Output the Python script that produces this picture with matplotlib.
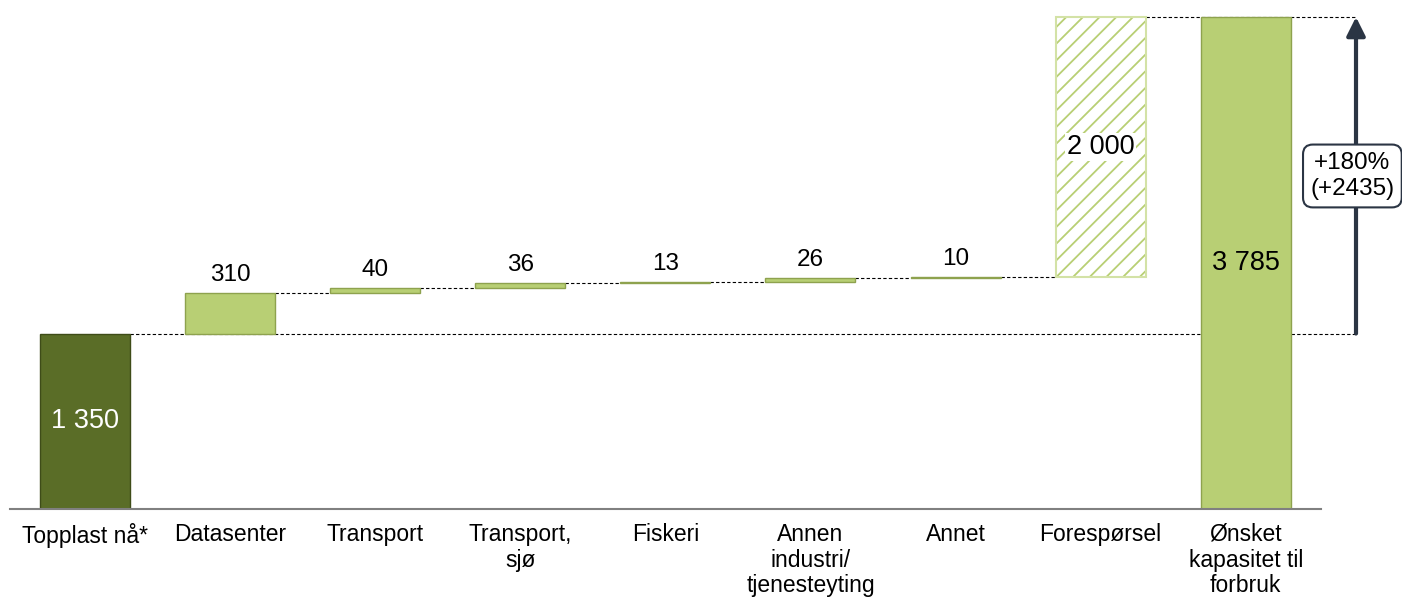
import numpy as np
import matplotlib.pyplot as plt

plt.rcParams['font.family'] = ['Liberation Sans', 'DejaVu Sans']
plt.rcParams['hatch.linewidth'] = 1.3

kategorier = ['Topplast nå*', 'Datasenter', 'Transport', 'Transport,\nsjø', 'Fiskeri',
              'Annen\nindustri/\ntjenesteyting', 'Annet', 'Forespørsel',
              'Ønsket\nkapasitet til\nforbruk']
start = 1350
okning = [310, 40, 36, 13, 26, 10]
foresporsel = 2000
total = 3785
verdi_tekst = ['1 350', '310', '40', '36', '13', '26', '10', '2 000', '3 785']
endring_tekst = '+180%\n(+2435)'

mork = '#5a6d27'
lys = '#b8cf74'
lys_kant = '#8ea24e'
pil = '#2b3544'

fig = plt.figure(figsize=(14.02, 5.97), dpi=100)
ax = fig.add_axes([0, 88 / 597, 1, 509 / 597])
ax.set_xlim(-0.586, 9.077)
ax.set_ylim(0, total * 509 / 492)
ax.axis('off')

w = 0.62
x = np.arange(len(kategorier))

# start bar
ax.bar(x[0], start, width=w, color=mork, edgecolor='#3e4c18', linewidth=1, zorder=3)
ax.text(x[0], start / 2, verdi_tekst[0], ha='center', va='center', color='white', fontsize=19.5, zorder=4)

# increments
niva = start
for i, v in enumerate(okning):
    xi = x[i + 1]
    ax.bar(xi, v, bottom=niva, width=w, color=lys, edgecolor=lys_kant, linewidth=1, zorder=3)
    ax.annotate(verdi_tekst[i + 1], (xi, niva + v), xytext=(0, 5), textcoords='offset points',
                ha='center', va='bottom', fontsize=17.5)
    if i > 0:
        ax.plot([x[i] + w / 2, xi - w / 2], [niva, niva], ls=(0, (3, 2)), color='black', lw=0.8, zorder=2)
    niva += v
ax.plot([x[6] + w / 2, x[7] - w / 2], [niva, niva], ls=(0, (3, 2)), color='black', lw=0.8, zorder=2)

# foresporsel (hatched)
ax.bar(x[7], foresporsel, bottom=niva, width=w, color='white', edgecolor=lys, hatch='//', linewidth=0, zorder=3)
ax.bar(x[7], foresporsel, bottom=niva, width=w, fill=False, edgecolor='#d3e2a6', linewidth=1.5, zorder=3)
ax.text(x[7], niva + foresporsel / 2, verdi_tekst[7], ha='center', va='center', fontsize=19.5, zorder=4,
        bbox=dict(fc='white', ec='none', pad=1))

# total bar
ax.bar(x[8], total, width=w, color=lys, edgecolor=lys_kant, linewidth=1, zorder=3)
ax.text(x[8], total / 2, verdi_tekst[8], ha='center', va='center', fontsize=19.5, zorder=4)

# reference lines and arrow
xp = 8.76
ax.plot([x[0] + w / 2, xp], [start, start], ls=(0, (3, 2)), color='black', lw=0.8, zorder=2)
ax.plot([x[7] + w / 2, xp], [total, total], ls=(0, (3, 2)), color='black', lw=0.8, zorder=2)
ax.annotate('', xy=(xp, total), xytext=(xp, start),
            arrowprops=dict(arrowstyle='-|>', color=pil, lw=3, mutation_scale=28, shrinkA=0, shrinkB=0))
ax.text(8.735, 2562, endring_tekst, ha='center', va='center', fontsize=17.5, linespacing=1.25, zorder=5,
        bbox=dict(boxstyle='round,pad=0.3,rounding_size=0.4', fc='white', ec=pil, lw=1.5))

# baseline and labels
ax.plot([-0.52, 8.52], [0, 0], color='#808080', lw=1.5, zorder=4, clip_on=False)
for xi, k in zip(x, kategorier):
    ax.annotate(k, (xi, 0), xytext=(0, -10), textcoords='offset points', ha='center', va='top',
                fontsize=16.5, linespacing=1.15, annotation_clip=False)

fig.savefig('out.png', dpi=100)
